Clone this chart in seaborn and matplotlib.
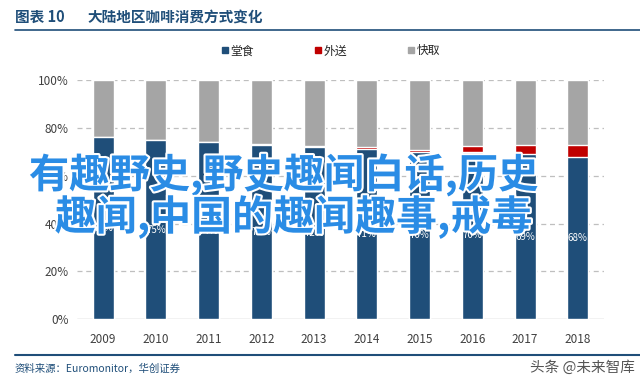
import pandas as pd
import matplotlib.pyplot as plt
import matplotlib.patheffects as pe
from matplotlib.lines import Line2D
import seaborn as sns

# data (share of coffee consumption, %)
years = ["2009", "2010", "2011", "2012", "2013", "2014", "2015", "2016", "2017", "2018"]
dine_in = [76, 75, 74, 73, 72, 71, 70, 70, 69, 68]
delivery = [0, 0, 0, 0.3, 0.5, 1.0, 0.8, 2.6, 3.8, 4.9]
labels = ["76%", "75%", "74%", "73%", "72%", "71%", "70%", "70%", "69%", "68%"]
series_names = ["堂食", "外送", "快取"]

df = pd.DataFrame({"year": years, "dine": dine_in, "delivery": delivery})
df["dine_deliv"] = df["dine"] + df["delivery"]
df["total"] = 100

blue, red, grey = "#1F4E79", "#C00000", "#A5A5A5"

sns.set_style("white")
plt.rcParams["font.family"] = ["Noto Sans CJK SC", "DejaVu Sans"]

fig = plt.figure(figsize=(6.4, 3.85), dpi=100)
ax = fig.add_axes([0.120, 0.171, 0.824, 0.621])

# stacked bars: draw cumulative totals back to front
sns.barplot(data=df, x="year", y="total", color=grey, width=0.4, saturation=1, ax=ax, zorder=2)
sns.barplot(data=df, x="year", y="dine_deliv", color=red, width=0.4, saturation=1, ax=ax, zorder=3)
sns.barplot(data=df, x="year", y="dine", color=blue, width=0.4, saturation=1, ax=ax, zorder=4)

for i, (v, lab) in enumerate(zip(dine_in, labels)):
    ax.text(i, v / 2, lab, ha="center", va="center", color="white", fontsize=7, zorder=5)

ax.set_xlim(-0.5, 9.5)
ax.set_ylim(0, 100)
ax.set_yticks([0, 20, 40, 60, 80, 100])
ax.set_yticklabels(["0%", "20%", "40%", "60%", "80%", "100%"])
for y in [20, 40, 60, 80, 100]:
    ax.axhline(y, color="#BFBFBF", linestyle=(0, (4, 3)), linewidth=0.9, zorder=1)
ax.axhline(0, color="#BFBFBF", linewidth=1, zorder=1)
for s in ax.spines.values():
    s.set_visible(False)
ax.set_xlabel("")
ax.set_ylabel("")
ax.tick_params(axis="both", length=0, labelsize=8.5, colors="#404040", pad=6)
ax.tick_params(axis="x", pad=10)

# legend
handles = [Line2D([], [], marker="s", linestyle="", color=c, markersize=5) for c in (blue, red, grey)]
fig.legend(handles, series_names, loc="center", bbox_to_anchor=(0.516, 0.868), ncol=3,
           frameon=False, fontsize=8.5, handletextpad=0.1, columnspacing=5.0, handlelength=0.8)

# header
fig.text(0.023, 0.956, "图表 10", fontsize=10.5, fontweight="bold", color="#1F4E79", va="center")
fig.text(0.136, 0.956, "大陆地区咖啡消费方式变化", fontsize=10.5, fontweight="bold", color="#1F4E79", va="center")
fig.add_artist(Line2D([0.023, 1.0], [0.922, 0.922], color="#1F4E79", linewidth=1.2))

# footer
fig.add_artist(Line2D([0.023, 1.0], [0.078, 0.078], color="#1F4E79", linewidth=1.5))
fig.text(0.023, 0.042, "资料来源：Euromonitor，华创证券", fontsize=7.5, style="italic", color="#1F4E79", va="center")
fig.text(0.992, 0.045, "头条 @未来智库", fontsize=10.5, color="#555555", ha="right", va="center")

# overlay text
stroke = [pe.withStroke(linewidth=3, foreground="white")]
fig.text(0.443, 0.545, "有趣野史,野史趣闻白话,历史", fontsize=29, fontweight="bold", color="#2A8CE5",
         ha="center", va="center", path_effects=stroke, zorder=10)
fig.text(0.459, 0.436, "趣闻,中国的趣闻趣事,戒毒", fontsize=29.5, fontweight="bold", color="#2A8CE5",
         ha="center", va="center", path_effects=stroke, zorder=10)

fig.savefig("out.png", dpi=100)
